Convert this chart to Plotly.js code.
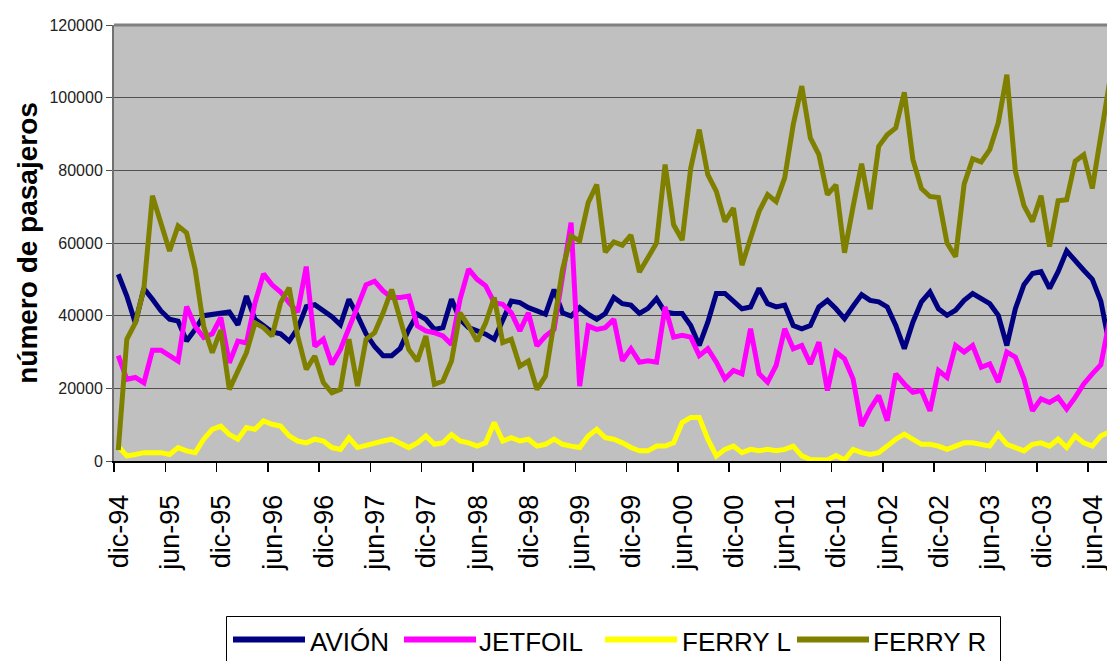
<!DOCTYPE html>
<html>
<head>
<meta charset="utf-8">
<script src="https://cdn.plot.ly/plotly-3.0.1.min.js"></script>
<style>
  html, body { margin: 0; padding: 0; background: #fff; }
  #chart { width: 1107px; height: 661px; }
</style>
</head>
<body>
<div id="chart"></div>
<script>
// Monthly series, dic-94 (index 0) to ago-04 (index 116)
const tickLabels = ["dic-94","jun-95","dic-95","jun-96","dic-96","jun-97","dic-97","jun-98","dic-98","jun-99",
                    "dic-99","jun-00","dic-00","jun-01","dic-01","jun-02","dic-02","jun-03","dic-03","jun-04"];
const seriesNames = ["AVIÓN", "JETFOIL", "FERRY L", "FERRY R"];

const avion = [
  51400,45400,38000,47500,44500,41300,39000,38500,33000,36200,
  40000,40400,40800,41000,37500,45400,39000,37200,35500,35000,
  33000,36500,42500,43000,41500,39700,37500,44500,40000,35000,
  31500,29000,29000,31000,36200,40400,39000,36200,36700,44500,
  39000,36700,35800,34900,33500,39000,44000,43600,42200,41300,
  40400,47200,40800,39900,42200,40400,39000,40600,45000,43300,
  42900,40600,42000,44700,41000,40600,40600,37300,31800,38200,
  46100,46100,44200,41900,42400,47500,43300,42400,42900,37300,
  36400,37300,42400,44200,41900,39200,42600,45800,44200,43800,
  42400,37300,30900,38200,43800,46500,41900,40100,41500,44200,
  46100,44700,43300,40100,31800,41900,48500,51600,52100,47500,
  52100,57800,55000,52500,50000,44000,32000
];
const jetfoil = [
  29000,22500,23000,21500,30500,30500,29000,27500,42500,37000,
  34000,35000,39500,27000,33000,32500,43500,51500,48500,46500,
  43500,41000,53500,31600,33500,26600,30700,37000,42500,48500,
  49500,46800,45000,45000,45400,37200,35800,35300,34400,32100,
  44500,52800,50000,48200,43600,43100,40800,35800,40800,31700,
  34400,36200,50900,65600,20600,37200,36200,36700,39000,27600,
  30900,27200,27600,27200,42400,34100,34600,34100,29000,30900,
  27200,22600,24900,24000,36400,24000,21700,26300,36400,30900,
  31800,26700,32700,19400,30000,28100,22600,9700,14300,18000,
  11100,24000,21200,18900,19400,13800,24900,23000,31800,30000,
  31800,25800,26700,21700,30000,28600,22600,13800,17100,16100,
  17500,14300,17500,21200,24000,26500,38500
];
const ferryL = [
  4000,1400,1800,2300,2300,2300,1800,3700,2800,2300,
  6000,8700,9600,7300,6000,9200,8700,11000,10100,9600,
  6900,5500,5000,6000,5500,3700,3200,6400,3700,4400,
  5000,5500,6000,5000,3700,5000,6900,4600,5000,7300,
  5500,5000,4100,5000,10600,5500,6400,5500,6000,4100,
  4600,6000,4600,4100,3700,6900,8700,6400,6000,5000,
  3700,2800,2800,4100,4100,5000,10600,12000,12000,6000,
  1400,3200,4100,2300,3200,2800,3200,2800,3200,4100,
  1400,400,200,300,1500,300,3200,2300,1800,2300,
  4100,6000,7400,6000,4600,4600,4100,3200,4100,5000,
  5000,4600,4100,7400,4600,3700,2800,4600,5000,4100,
  6000,3700,6900,5000,4100,6900,8000
];
const ferryR = [
  3000,33500,38000,47500,73000,65600,57800,64700,62800,52700,
  37000,29800,36000,19700,25000,29800,38000,36700,34400,43600,
  47700,34400,25200,28900,21600,18800,19700,33500,20600,33500,
  35300,40800,47200,39000,30700,27500,34400,21100,22000,27500,
  40800,37200,33000,38000,45000,32600,33500,26100,27500,19700,
  23400,38000,52800,61900,60600,71100,76100,57500,60300,59400,
  62200,52000,55800,60000,81600,65000,60800,80600,91200,78800,
  74200,65900,69600,53900,61300,68700,73300,71400,77900,92600,
  103200,88900,84300,73300,76000,57300,70000,81800,69300,86600,
  89800,91700,101500,83000,75000,72800,72500,60000,56200,76200,
  83200,82300,85700,93100,106300,79700,70300,65900,73000,59000,
  71600,71900,82500,84300,75000,90500,104000
];

const seriesValues = [avion, jetfoil, ferryL, ferryR];
const seriesColors = ["#000080", "#FF00FF", "#FFFF00", "#808000"];

const traces = seriesValues.map((vals, s) => ({
  type: "scatter",
  mode: "lines",
  name: seriesNames[s],
  x: vals.map((_, i) => i),
  y: vals,
  line: { color: seriesColors[s], width: 5 },
  hoverinfo: "x+y+name"
}));

// plot-area geometry (pixels) used to place the hand-made legend
const PL = 114, PR = 1107, PT = 25, PB = 461;
const px = v => (v - PL) / (PR - PL);
const py = v => (PB - v) / (PB - PT);

const legendSampleX = [233, 404, 605, 797];
const legendTextX = [308, 477, 680, 871];
const legendShapes = [{
  type: "rect", xref: "paper", yref: "paper",
  x0: px(226.5), x1: px(1000.5), y0: py(616.5), y1: py(675),
  line: { color: "#000", width: 1 }, fillcolor: "rgba(0,0,0,0)", layer: "above"
}];
const legendAnnots = [];
seriesNames.forEach((n, s) => {
  legendShapes.push({
    type: "line", xref: "paper", yref: "paper",
    x0: px(legendSampleX[s]), x1: px(legendSampleX[s] + 72),
    y0: py(639.5), y1: py(639.5),
    line: { color: seriesColors[s], width: 6 }, layer: "above"
  });
  legendAnnots.push({
    xref: "paper", yref: "paper", x: px(legendTextX[s]), y: py(641.5),
    xanchor: "left", yanchor: "middle", showarrow: false, text: n,
    font: { family: "Liberation Sans, Arial, sans-serif", size: 26, color: "#000" }
  });
});
// top frame line at 120000
legendShapes.push({
  type: "line", xref: "paper", yref: "paper", x0: 0, x1: 1, y0: 1, y1: 1,
  line: { color: "#808080", width: 3 }, layer: "above"
});

const layout = {
  width: 1107, height: 661,
  margin: { l: PL, r: 1107 - PR, t: PT, b: 661 - PB },
  paper_bgcolor: "#ffffff",
  plot_bgcolor: "#C0C0C0",
  showlegend: false,
  font: { family: "Liberation Sans, Arial, sans-serif", color: "#000" },
  xaxis: {
    range: [-0.5, -0.5 + (PR - PL) / 8.544],
    tickmode: "array",
    tickvals: tickLabels.map((_, k) => 6 * k - 0.5),
    ticktext: tickLabels,
    tickangle: -90,
    ticks: "outside", ticklen: 9, tickwidth: 1.5, tickcolor: "#000",
    ticklabelshift: 5, ticklabelstandoff: 12,
    ticklabeloverflow: "allow",
    showgrid: false, zeroline: false,
    showline: true, linecolor: "#000", linewidth: 2,
    tickfont: { family: "Liberation Sans, Arial, sans-serif", size: 27, color: "#000" }
  },
  yaxis: {
    range: [0, 120000], tickmode: "linear", tick0: 0, dtick: 20000,
    tickformat: "d",
    showgrid: true, gridcolor: "#505050", gridwidth: 1,
    zeroline: false,
    showline: true, linecolor: "#707070", linewidth: 2,
    ticks: "outside", ticklen: 6, tickwidth: 1, tickcolor: "#505050",
    tickfont: { family: "Liberation Sans, Arial, sans-serif", size: 16, color: "#222" },
    title: {
      text: "número de pasajeros",
      font: { family: "Liberation Sans, Arial, sans-serif", size: 28, weight: "bold", color: "#000" },
      standoff: 4
    }
  },
  shapes: legendShapes,
  annotations: legendAnnots
};

Plotly.newPlot("chart", traces, layout, { displayModeBar: false, staticPlot: true });
</script>
</body>
</html>
